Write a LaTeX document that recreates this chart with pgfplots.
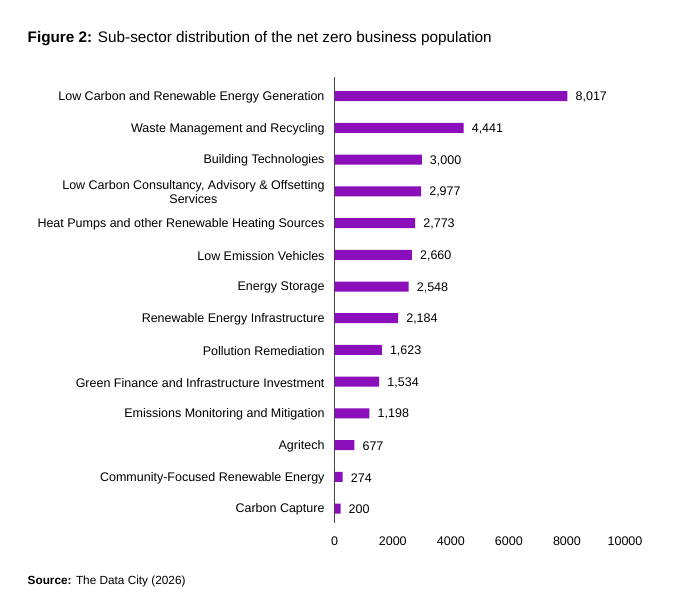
\documentclass[border=0pt]{standalone}
\usepackage{fontspec}
\setmainfont{Liberation Sans}
\usepackage{pgfplots}
\pgfplotsset{compat=1.18}
\definecolor{barpurple}{RGB}{138,14,186}
\definecolor{axisgray}{RGB}{70,70,70}
\begin{document}
\begin{tikzpicture}[x=1pt,y=1pt]
\useasboundingbox (0,0) rectangle (680,611);
\node[anchor=base west,inner sep=0pt,font=\fontsize{15.3}{18}\selectfont] at (27.5,611-43) {\textbf{Figure 2:} Sub-sector distribution of the net zero business population};
\node[anchor=base west,inner sep=0pt,font=\fontsize{11.8}{13}\selectfont] at (27.5,611-584) {\textbf{Source:} The Data City (2026)};
\begin{axis}[
  at={(334.7pt,88.2pt)}, anchor=south west,
  scale only axis, width=290.3pt, height=445.6pt,
  xbar, bar width=10pt,
  xmin=0, xmax=10000, ymin=-0.45, ymax=13.6,
  xtick={0,2000,4000,6000,8000,10000},
  ytick={0,...,13},
  yticklabels={Carbon Capture, Community-Focused Renewable Energy, Agritech, Emissions Monitoring and Mitigation, Green Finance and Infrastructure Investment, Pollution Remediation, Renewable Energy Infrastructure, Energy Storage, Low Emission Vehicles, Heat Pumps and other Renewable Heating Sources, {Low Carbon Consultancy, Advisory \& Offsetting\\Services}, Building Technologies, Waste Management and Recycling, Low Carbon and Renewable Energy Generation},
  separate axis lines,
  x axis line style={draw=none},
  y axis line style={draw=axisgray, line width=0.9pt},
  axis x line*=bottom, axis y line*=left,
  major tick length=0pt,
  tick style={draw=none},
  xticklabel style={font=\fontsize{12.5}{14}\selectfont, yshift=-10pt},
  yticklabel style={font=\fontsize{12.5}{14}\selectfont, align=center, inner sep=0pt, xshift=-10pt, yshift=-1pt},
  /pgf/number format/assume math mode=true,
  scaled x ticks=false,
  xticklabel={\pgfmathprintnumber[1000 sep={}]{\tick}},
  nodes near coords={\pgfmathprintnumber[1000 sep={,}]{\pgfplotspointmeta}},
  point meta=x,
  every node near coord/.append style={font=\fontsize{12.5}{14}\selectfont, anchor=west, inner sep=0pt, xshift=8pt, yshift=-1pt, text=black},
  clip=false,
]
\addplot[fill=barpurple, draw=none] coordinates {
(200,0) (274,1) (677,2) (1198,3) (1534,4) (1623,5) (2184,6) (2548,7) (2660,8) (2773,9) (2977,10) (3000,11) (4441,12) (8017,13)
};
\end{axis}
\end{tikzpicture}
\end{document}
